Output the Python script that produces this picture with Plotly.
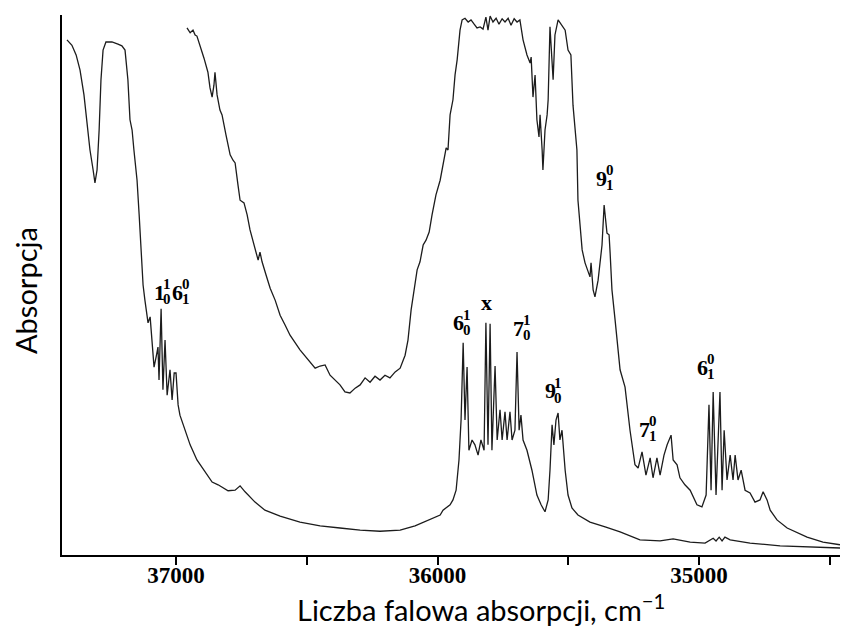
import plotly.graph_objects as go

# Widmo z przypisanymi pasmami (dolne)
wn_a = [37417, 37398, 37382, 37367, 37352, 37340, 37329, 37317, 37310, 37302,
        37294, 37287, 37279, 37268, 37245, 37222, 37207, 37195, 37184, 37176,
        37168, 37161, 37149, 37141, 37134, 37126, 37119, 37107, 37099, 37092,
        37084, 37076, 37069, 37065, 37057, 37050, 37042, 37034, 37023, 37015,
        37007, 37000, 36992, 36985, 36966, 36946, 36920, 36889, 36862, 36839,
        36824, 36801, 36774, 36755, 36736, 36698, 36660, 36602, 36526, 36449,
        36373, 36296, 36220, 36143, 36086, 36029, 35990, 35979, 35952, 35941,
        35929, 35918, 35910, 35902, 35895, 35887, 35880, 35868, 35857, 35845,
        35834, 35822, 35815, 35807, 35799, 35792, 35780, 35772, 35761, 35753,
        35742, 35734, 35723, 35715, 35704, 35696, 35688, 35681, 35673, 35658,
        35639, 35620, 35604, 35589, 35577, 35570, 35562, 35555, 35547, 35539,
        35532, 35524, 35512, 35501, 35486, 35463, 35417, 35359, 35302, 35226,
        35149, 35099, 35034, 34977, 34946, 34935, 34923, 34912, 34901, 34881,
        34805, 34690, 34576, 34461]
abs_a = [95.4, 94.4, 92.6, 89.8, 85.2, 79.6, 75.0, 71.3, 68.9, 71.3,
         78.7, 88.0, 93.5, 95.0, 95.0, 94.6, 94.3, 93.5, 88.0, 80.6,
         78.7, 75.0, 69.4, 63.0, 56.5, 50.0, 47.2, 43.0, 44.1, 39.3,
         34.8, 36.7, 38.5, 32.4, 45.6, 30.6, 39.8, 29.6, 34.3, 28.7,
         33.7, 33.7, 27.8, 25.9, 23.1, 20.4, 17.6, 15.4, 13.5, 13.0,
         12.6, 11.9, 12.0, 12.8, 11.7, 9.8, 8.3, 7.2, 6.1, 5.4,
         5.0, 4.6, 4.4, 4.6, 5.4, 6.5, 7.4, 8.3, 9.3, 10.2,
         12.0, 17.6, 25.0, 39.3, 25.0, 34.8, 19.4, 21.3, 20.4, 18.5,
         21.3, 19.4, 43.0, 20.4, 42.8, 19.4, 35.0, 21.3, 26.9, 21.3,
         26.5, 21.3, 26.5, 21.3, 23.1, 37.6, 23.1, 25.9, 21.3, 19.4,
         15.7, 11.1, 9.3, 8.0, 10.2, 15.7, 24.1, 20.4, 25.0, 26.3,
         21.3, 23.1, 15.7, 11.1, 8.7, 7.4, 6.1, 5.2, 4.3, 2.8,
         2.6, 3.0, 2.4, 2.2, 3.1, 2.6, 3.3, 2.6, 3.3, 2.8,
         2.2, 1.7, 1.5, 1.3]

# Widmo górne
wn_b = [36958, 36946, 36935, 36927, 36920, 36908, 36893, 36878, 36870, 36862,
        36855, 36851, 36843, 36832, 36824, 36809, 36793, 36782, 36774, 36763,
        36755, 36740, 36728, 36717, 36702, 36686, 36679, 36671, 36656, 36640,
        36621, 36602, 36583, 36564, 36526, 36488, 36468, 36449, 36430, 36411,
        36373, 36354, 36335, 36315, 36296, 36277, 36258, 36239, 36220, 36201,
        36182, 36162, 36143, 36124, 36113, 36101, 36090, 36078, 36067, 36055,
        36044, 36032, 36021, 36006, 35990, 35979, 35967, 35960, 35952, 35941,
        35933, 35925, 35914, 35906, 35895, 35883, 35872, 35860, 35849, 35837,
        35826, 35815, 35807, 35799, 35788, 35776, 35765, 35753, 35742, 35730,
        35719, 35707, 35696, 35685, 35673, 35658, 35646, 35642, 35635, 35627,
        35620, 35612, 35608, 35600, 35597, 35589, 35581, 35577, 35570, 35558,
        35551, 35539, 35524, 35512, 35501, 35490, 35482, 35467, 35463, 35447,
        35436, 35417, 35413, 35405, 35398, 35386, 35371, 35363, 35352, 35344,
        35340, 35333, 35321, 35302, 35283, 35264, 35245, 35233, 35218, 35203,
        35187, 35176, 35161, 35149, 35134, 35122, 35107, 35099, 35084, 35073,
        35054, 35034, 35008, 34989, 34973, 34962, 34954, 34946, 34935, 34920,
        34912, 34904, 34893, 34881, 34870, 34862, 34851, 34839, 34824, 34805,
        34786, 34767, 34755, 34740, 34728, 34702, 34663, 34625, 34587, 34526,
        34461]
abs_b = [97.6, 96.7, 97.2, 96.3, 96.1, 94.4, 92.0, 89.4, 86.5, 84.8,
         87.0, 89.4, 85.2, 82.4, 81.5, 77.8, 74.1, 73.1, 72.6, 68.5,
         65.7, 65.2, 63.0, 60.2, 57.4, 54.6, 56.1, 54.3, 51.9, 49.4,
         47.2, 44.4, 42.6, 40.7, 38.0, 35.7, 34.6, 35.0, 35.2, 33.3,
         31.5, 30.2, 30.0, 30.9, 31.5, 32.8, 32.0, 33.1, 32.4, 33.3,
         32.8, 33.9, 34.6, 37.0, 39.8, 45.4, 49.1, 52.8, 54.3, 57.4,
         58.3, 59.8, 63.0, 66.7, 69.4, 72.2, 75.4, 75.0, 81.5, 84.3,
         88.9, 91.7, 97.2, 99.1, 99.4, 98.7, 99.1, 98.3, 97.6, 97.8,
         97.4, 99.6, 97.2, 99.8, 98.7, 99.4, 98.3, 99.3, 98.7, 99.4,
         98.1, 99.3, 98.7, 99.1, 95.4, 92.6, 91.1, 92.2, 84.8, 88.9,
         80.6, 77.4, 81.5, 75.0, 71.3, 78.7, 81.5, 84.3, 97.8, 88.0,
         96.3, 99.1, 98.1, 97.2, 93.5, 92.6, 83.3, 75.0, 65.7, 56.5,
         54.1, 51.5, 54.1, 49.1, 47.8, 50.9, 57.4, 64.8, 59.6, 59.3,
         55.9, 49.1, 43.5, 34.3, 31.1, 23.1, 16.7, 16.1, 19.1, 14.8,
         18.0, 14.3, 18.0, 14.8, 18.5, 20.4, 22.2, 17.6, 16.7, 14.3,
         13.0, 12.0, 9.3, 8.9, 11.1, 27.8, 12.0, 30.2, 11.1, 30.2,
         12.0, 23.1, 13.9, 18.5, 13.9, 18.5, 13.9, 15.7, 12.0, 11.5,
         9.8, 10.2, 11.7, 10.2, 8.3, 6.5, 5.0, 4.1, 3.3, 2.4,
         1.9]

# Przypisania pasm: (cyfra, indeks górny, indeks dolny) oraz położenie etykiety
band_labels = [
    [("1", "1", "0"), ("6", "0", "1")],
    [("6", "1", "0")],
    [("x", None, None)],
    [("7", "1", "0")],
    [("9", "1", "0")],
    [("9", "0", "1")],
    [("7", "0", "1")],
    [("6", "0", "1")],
]
label_wn = [37015, 35906, 35811, 35677, 35555, 35359, 35195, 34973]
label_abs = [48.7, 43.0, 46.7, 42.0, 30.4, 69.8, 23.3, 34.8]

x_ticks = [37000, 36500, 36000, 35500, 35000, 34500]
x_tick_text = ["37000", "", "36000", "", "35000", ""]
x_range = [37436, 34461]

serif = "Liberation Serif"
sans = "Lato"

fig = go.Figure()
for wn, ab in ((wn_a, abs_a), (wn_b, abs_b)):
    fig.add_trace(go.Scatter(x=wn, y=ab, mode="lines",
                             line=dict(color="#1c1c1c", width=1.3),
                             hoverinfo="skip", showlegend=False))

# Etykiety pasm: cyfra z indeksami górnym i dolnym ustawionymi jeden nad drugim
base_size, script_size = 22, 15
base_w, script_w = 11.0, 7.5
annotations = []
for parts, wn, ab in zip(band_labels, label_wn, label_abs):
    total = sum(base_w + (script_w if sup or sub else 0) for _, sup, sub in parts)
    pos = -total / 2
    for base, sup, sub in parts:
        annotations.append(dict(
            x=wn, y=ab, xref="x", yref="y", text=base, showarrow=False,
            xanchor="center", yanchor="middle", xshift=pos + base_w / 2,
            font=dict(family=serif, size=base_size, color="black", weight="bold")))
        pos += base_w
        if sup or sub:
            for s, dy in ((sup, 8), (sub, -7)):
                annotations.append(dict(
                    x=wn, y=ab, xref="x", yref="y", text=s, showarrow=False,
                    xanchor="center", yanchor="middle",
                    xshift=pos + script_w / 2 - 1, yshift=dy,
                    font=dict(family=serif, size=script_size, color="black",
                              weight="bold")))
            pos += script_w

annotations.append(dict(
    x=0.5386, y=-0.098, xref="paper", yref="paper", showarrow=False,
    xanchor="center", yanchor="middle",
    text="Liczba falowa absorpcji, cm<sup>\u22121</sup>",
    font=dict(family=sans, size=29, color="black")))
annotations.append(dict(
    x=-0.0476, y=0.4907, xref="paper", yref="paper", showarrow=False,
    xanchor="center", yanchor="middle", textangle=-90, text="Absorpcja",
    font=dict(family=sans, size=29, color="black")))

fig.update_layout(
    width=842, height=626,
    margin=dict(l=62, r=2, t=15, b=71),
    paper_bgcolor="white", plot_bgcolor="white",
    annotations=annotations,
    xaxis=dict(range=x_range, tickvals=x_ticks, ticktext=x_tick_text,
               showgrid=False, zeroline=False, showline=True,
               linecolor="black", linewidth=2, ticks="outside", ticklen=8,
               tickwidth=1.5, tickcolor="black", ticklabelstandoff=-10,
               tickfont=dict(family=serif, size=23, color="black", weight="bold")),
    yaxis=dict(range=[0, 100], showgrid=False, zeroline=False, showline=True,
               linecolor="black", linewidth=2, showticklabels=False, ticks=""),
)

fig.write_html("out.html")
